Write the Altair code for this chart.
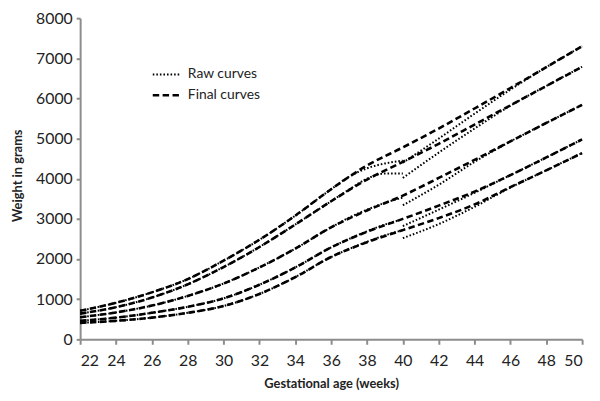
import altair as alt
import pandas as pd

# ---- data ----
final_weeks = [22, 24, 26, 28, 30, 32, 34, 36, 38, 40, 42, 44, 46, 48, 50]
final_p97 = [710, 910, 1170, 1500, 1960, 2480, 3080, 3740, 4330, 4780, 5250, 5750, 6260, 6780, 7300]
final_p90 = [640, 800, 1040, 1370, 1800, 2300, 2860, 3440, 3980, 4420, 4870, 5350, 5830, 6310, 6790]
final_p50 = [550, 670, 840, 1080, 1390, 1790, 2260, 2790, 3210, 3580, 4020, 4470, 4930, 5390, 5840]
final_p10 = [460, 540, 660, 810, 1020, 1360, 1790, 2290, 2680, 3000, 3330, 3680, 4090, 4530, 4980]
final_p3 = [410, 460, 540, 660, 830, 1130, 1550, 2050, 2420, 2720, 3020, 3360, 3790, 4210, 4640]

raw_pre_weeks = [22, 24, 26, 28, 30, 32, 34, 36, 37, 38, 39, 40]
raw_pre_p97 = [710, 910, 1170, 1500, 1960, 2480, 3080, 3740, 4050, 4260, 4380, 4450]
raw_pre_p90 = [640, 800, 1040, 1370, 1800, 2300, 2860, 3440, 3730, 4000, 4130, 4130]
raw_pre_p50 = [550, 670, 840, 1080, 1390, 1790, 2260, 2790, 3030, 3230, 3400, 3530]
raw_pre_p10 = [460, 540, 660, 810, 1020, 1360, 1790, 2290, 2500, 2690, 2860, 2990]
raw_pre_p3 = [410, 460, 540, 660, 830, 1130, 1550, 2050, 2250, 2430, 2590, 2720]

raw_post_weeks = [40, 42, 44, 46, 48, 50]
raw_post_p97 = [4400, 5000, 5620, 6220, 6780, 7300]
raw_post_p90 = [4020, 4650, 5250, 5820, 6310, 6790]
raw_post_p50 = [3340, 3850, 4420, 4930, 5390, 5840]
raw_post_p10 = [2820, 3230, 3650, 4090, 4530, 4980]
raw_post_p3 = [2520, 2870, 3300, 3780, 4210, 4640]

x_ticks = list(range(22, 51, 2))
y_ticks = list(range(0, 8001, 1000))
kinds = ["Raw curves", "Final curves"]

rows = []
def add(curve, kind, xs, ys):
    for x, y in zip(xs, ys):
        rows.append({"curve": curve, "kind": kind, "week": x, "weight": y})

for name, ys in [("p97", raw_pre_p97), ("p90", raw_pre_p90), ("p50", raw_pre_p50),
                 ("p10", raw_pre_p10), ("p3", raw_pre_p3)]:
    add("raw_pre_" + name, kinds[0], raw_pre_weeks, ys)
for name, ys in [("p97", raw_post_p97), ("p90", raw_post_p90), ("p50", raw_post_p50),
                 ("p10", raw_post_p10), ("p3", raw_post_p3)]:
    add("raw_post_" + name, kinds[0], raw_post_weeks, ys)
for name, ys in [("p97", final_p97), ("p90", final_p90), ("p50", final_p50),
                 ("p10", final_p10), ("p3", final_p3)]:
    add("final_" + name, kinds[1], final_weeks, ys)

df = pd.DataFrame(rows)

chart = alt.Chart(df).mark_line(interpolate="monotone", color="black", strokeCap="butt").encode(
    x=alt.X("week:Q", scale=alt.Scale(domain=[22, 50], nice=False, zero=False),
            axis=alt.Axis(values=x_ticks, title="Gestational age (weeks)",
                          labelPadding=9, titlePadding=9, tickSize=5)),
    y=alt.Y("weight:Q", scale=alt.Scale(domain=[0, 8000], nice=False),
            axis=alt.Axis(values=y_ticks, format="d", title="Weight in grams", tickSize=4, labelPadding=4,
                          titleX=-63, titleY=159, titleBaseline="middle", titleAngle=270)),
    strokeDash=alt.StrokeDash("kind:N",
                              scale=alt.Scale(domain=kinds, range=[[1.6, 2.0], [6.5, 3.5]]),
                              legend=alt.Legend(title=None, orient="none", legendX=72, legendY=49,
                                                symbolType="stroke", symbolSize=784,
                                                symbolStrokeWidth=2.2, symbolStrokeColor="black",
                                                labelFont="Lato", labelFontSize=14, labelColor="#222",
                                                labelOffset=6, clipHeight=16, rowPadding=5, padding=0)),
    strokeWidth=alt.StrokeWidth("kind:N", scale=alt.Scale(domain=kinds, range=[2.0, 2.6]), legend=None),
    detail="curve:N",
).properties(
    width=508, height=325,
    autosize=alt.AutoSizeParams(type="none"),
    padding={"left": 73, "top": 8, "right": 10, "bottom": 50},
).configure_view(stroke=None).configure_axis(
    grid=False, domainColor="#8c8c8c", domainWidth=2, tickColor="#8c8c8c", tickWidth=2,
    labelFont="Lato", labelFontSize=16, labelColor="#222",
    titleFont="Lato", titleFontSize=13, titleFontWeight="bold", titleColor="#222",
)

chart.save("out.html", embed_options={"renderer": "svg", "actions": False})
